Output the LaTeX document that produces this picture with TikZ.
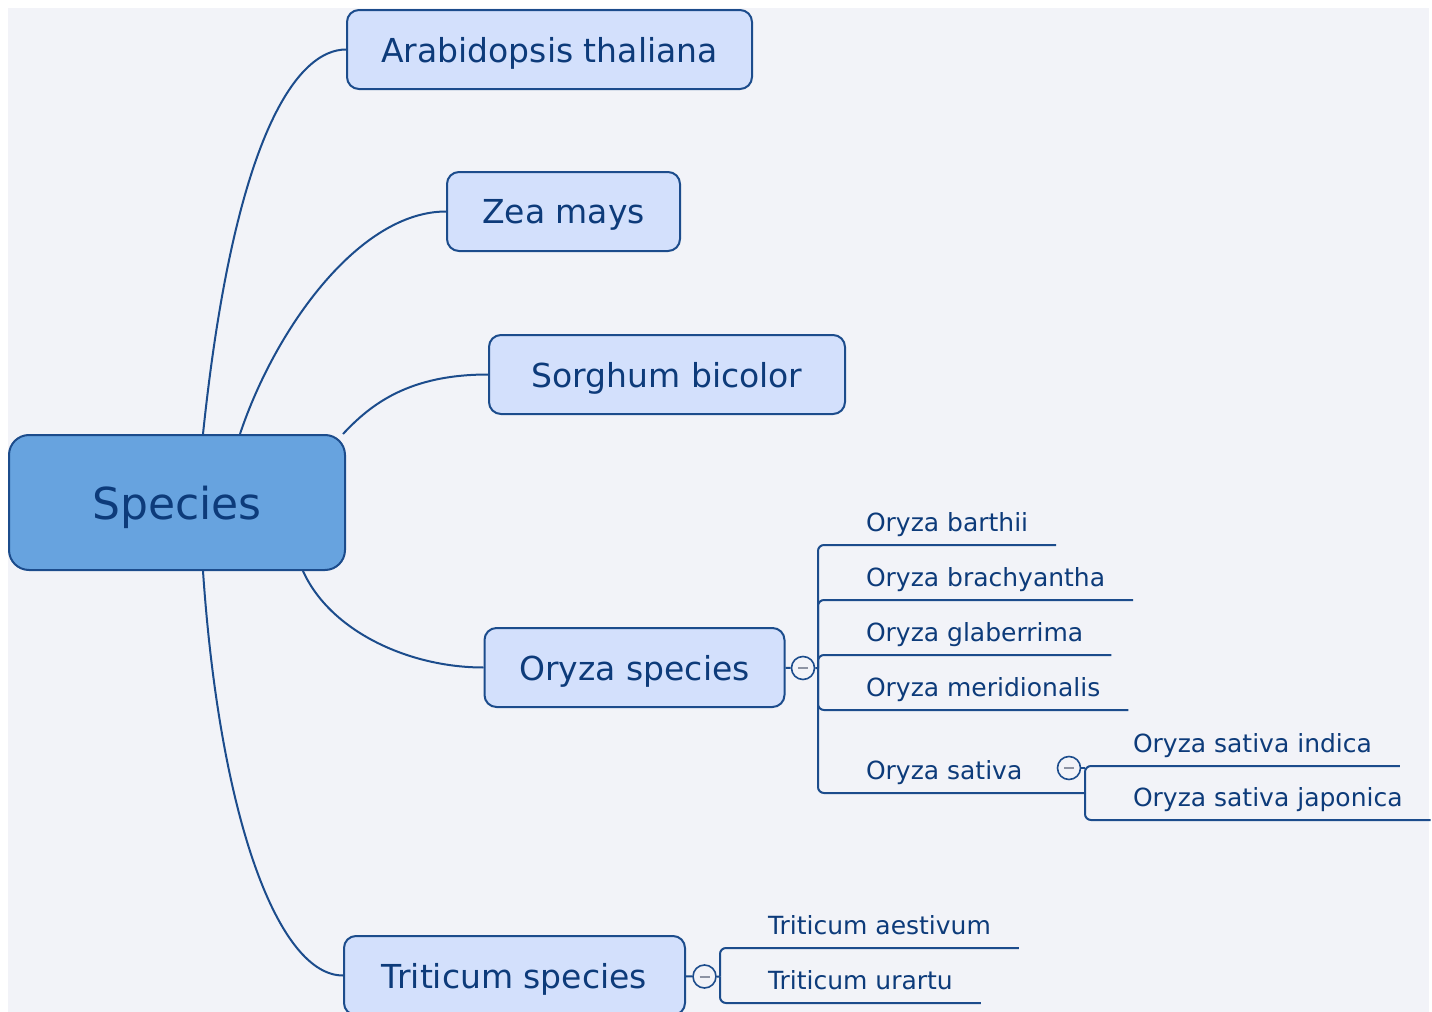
\documentclass[tikz,border=0pt]{standalone}
\usepackage{fontspec}
\setmainfont{DejaVu Sans}
\usepackage{xcolor}
\usepackage{tikz}
\usetikzlibrary{calc}

\definecolor{linecol}{HTML}{1C4C8C}
\definecolor{textcol}{HTML}{0D3B7A}
\definecolor{rootfill}{HTML}{67A3DF}
\definecolor{boxfill}{HTML}{D3E0FC}
\definecolor{bgcol}{HTML}{F2F3F8}
\definecolor{minuscol}{HTML}{8D93A3}

\begin{document}
\begin{tikzpicture}[
        x=0.5pt, y=-0.5pt,
        root/.style = {rectangle, draw=linecol, line width=1pt, fill=rootfill, rounded corners=10pt, minimum width=168pt, minimum height=67.5pt, text depth=0pt, text=textcol, font=\fontsize{22}{26}\selectfont},
        branch/.style = {rectangle, draw=linecol, line width=1pt, fill=boxfill, rounded corners=6pt, minimum height=39.5pt, inner xsep=17pt, text depth=0pt, text=textcol, font=\fontsize{16.5}{20}\selectfont},
        leaf/.style = {anchor=south west, inner xsep=14pt, inner ysep=7pt, outer sep=0pt, text depth=0pt, text=textcol, font=\fontsize{12.5}{15}\selectfont},
        toggle/.style = {circle, draw=linecol, line width=0.8pt, fill=bgcol, minimum size=11.5pt, inner sep=0pt,
            path picture={\draw[minuscol, line width=1pt] ([xshift=-2.5pt]path picture bounding box.center) -- ([xshift=2.5pt]path picture bounding box.center);}},
        link/.style = {draw=linecol, line width=1pt},
        stem/.style = {link, rounded corners=3pt}
    ]
        \useasboundingbox (0,0) rectangle (1432,1012);
        \fill [bgcol] (8,8) rectangle (1429,1012);

        % Root
        \node [root] (Species) at (177,502.5) {Species};

        % Main branches
        \node [branch, minimum width=202.5pt] (Arab) at (549.5,49.5) {Arabidopsis thaliana};
        \node [branch, minimum width=116.5pt] (Zea) at (563.5,211.5) {Zea mays};
        \node [branch, minimum width=178pt] (Sorghum) at (667,374.5) {Sorghum bicolor};
        \node [branch, minimum width=150pt] (Oryza) at (634.5,667.5) {Oryza species};
        \node [branch, minimum width=170.5pt] (Triticum) at (514.5,975.5) {Triticum species};

        % Collapse toggles and junctions
        \node [toggle] (OryzaT) at (803,668) {};
        \node [toggle] (SativaT) at (1069,768) {};
        \node [toggle] (TritT) at (704.5,976.5) {};
        \coordinate (OryzaJ) at (818,668);
        \coordinate (SativaJ) at (1085,793);
        \coordinate (TritJ) at (720,976.5);

        % Oryza leaves
        \node [leaf] (Barthii) at (838,545) {Oryza barthii};
        \node [leaf] (Brachy) at (838,600) {Oryza brachyantha};
        \node [leaf] (Glaber) at (838,655) {Oryza glaberrima};
        \node [leaf] (Merid) at (838,710) {Oryza meridionalis};
        \node [leaf] (Sativa) at (838,793) {Oryza sativa};
        \node [leaf] (Indica) at (1105,766) {Oryza sativa indica};
        \node [leaf] (Japonica) at (1105,820) {Oryza sativa japonica};

        % Triticum leaves
        \node [leaf] (Aestivum) at (740,948) {Triticum aestivum};
        \node [leaf] (Urartu) at (740,1003) {Triticum urartu};

        % Connections from root
        \draw [link] ($(Species.north)+(26,0)$) .. controls +(32,-305) and ($(Arab.west)+(-47,0)$) .. (Arab.west);
        \draw [link] ($(Species.north)+(63,0)$) .. controls +(35,-105) and ($(Zea.west)+(-87,0)$) .. (Zea.west);
        \draw [link] ($(Species.north east)+(-3,0)$) .. controls +(28,-30) and ($(Sorghum.west)+(-79,0)$) .. (Sorghum.west);
        \draw [link] ($(Species.south)+(126,0)$) .. controls +(27,60) and ($(Oryza.west)+(-75,0)$) .. (Oryza.west);
        \draw [link] ($(Species.south)+(26,0)$) .. controls +(17,250) and ($(Triticum.west)+(-64,0)$) .. (Triticum.west);

        % Oryza subtree
        \draw [link] (Oryza) -- (OryzaT) -- (OryzaJ);
        \foreach \leafname in {Barthii, Brachy, Glaber, Merid}
            \draw [stem] (OryzaJ) |- (\leafname.south east);
        \draw [stem] (OryzaJ) |- (SativaJ);
        \draw [link] (SativaT) -- (SativaT -| SativaJ);
        \foreach \leafname in {Indica, Japonica}
            \draw [stem] (SativaJ) |- (\leafname.south east);

        % Triticum subtree
        \draw [link] (Triticum) -- (TritT) -- (TritJ);
        \foreach \leafname in {Aestivum, Urartu}
            \draw [stem] (TritJ) |- (\leafname.south east);

    \end{tikzpicture}
\end{document}
